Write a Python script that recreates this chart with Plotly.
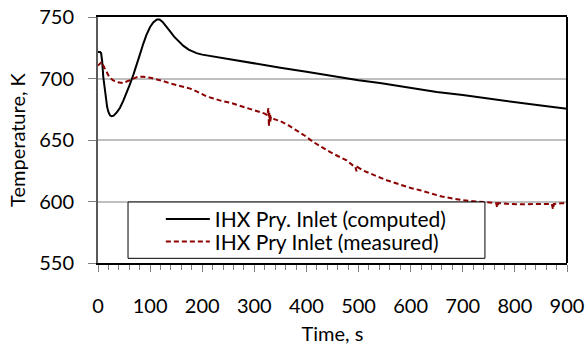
import plotly.graph_objects as go

# Computed IHX primary inlet temperature (time s, temperature K)
comp_t = [0, 4, 6, 8, 10.2, 13, 15.4, 17.5, 19.8, 23, 26, 30, 36, 42, 48.6, 55, 61, 67.8, 74, 80,
          87, 93, 100, 106, 113, 118, 124, 131, 138, 146, 155, 164, 174, 189, 200, 215, 250, 300,
          350, 400, 450, 477, 500, 541, 600, 650, 700, 750, 800, 850, 900]
comp_T = [721.5, 721.5, 720.5, 714, 701, 690, 682, 677, 673, 670, 669.3, 669.8, 672.5, 676, 682,
          688, 695, 703, 712, 719, 728.4, 735.5, 741.9, 745.5, 747.9, 748, 746, 742.5, 738.5, 734,
          730, 726.5, 723.5, 720.6, 719.4, 718.3, 715.5, 712.2, 708.8, 705.5, 702, 700, 698.5, 696.3,
          692.5, 689, 686.5, 683.5, 681, 678, 675.5]

# Measured IHX primary inlet temperature (time s, temperature K)
meas_t = [0, 4, 7, 12, 16.5, 22, 29, 38, 48, 58, 67, 77, 87, 95, 103, 115, 125, 138, 151, 164,
          177, 192, 200, 208, 220, 235, 253, 270, 292, 310, 320, 325, 327, 328, 329, 330, 332, 338,
          349, 365, 381, 397, 413, 430, 445, 460, 477, 490, 494, 496, 498, 510, 522, 538, 554, 570,
          586, 600, 618, 637, 660, 682, 700, 720, 746, 760, 764, 766, 768, 790, 810, 840, 860, 871,
          873, 875, 890, 900]
meas_T = [710.5, 712, 713.4, 709, 705, 701, 698.5, 697, 696.3, 698, 700, 701.5, 701.5, 701, 700.4,
          699, 698, 696, 694.5, 693, 691.8, 689, 687, 685.5, 684, 682, 680.4, 678, 675.5, 673,
          671.5, 670, 676, 661, 672, 664, 669, 667, 665.5, 662, 658, 653.5, 648.4, 644, 640.3, 637,
          633.5, 629, 628, 624.5, 628, 625, 622.7, 620, 617.3, 615, 613.2, 611, 609.2, 607, 604,
          602.3, 601, 600.3, 599.6, 599, 598.7, 595, 598.7, 598, 597.7, 598, 598.3, 598, 593.7, 598,
          598.5, 598.6]

x_ticks = [0, 100, 200, 300, 400, 500, 600, 700, 800, 900]
y_ticks = [550, 600, 650, 700, 750]

FONT = "Lato"
FS = 20

fig = go.Figure()
fig.add_trace(go.Scatter(x=comp_t, y=comp_T, mode="lines", name="IHX Pry. Inlet (computed)",
                         line=dict(color="black", width=2), legend="legend"))
fig.add_trace(go.Scatter(x=meas_t, y=meas_T, mode="lines", name="IHX Pry Inlet (measured)",
                         line=dict(color="#8B0000", width=2, dash="5px,3px"), legend="legend2"))

# legend frame
fig.add_shape(type="rect", xref="paper", yref="paper", x0=0.064, x1=0.825, y0=0.019, y1=0.248,
              line=dict(color="black", width=1), fillcolor="white", layer="above")
# right border
fig.add_shape(type="line", xref="paper", yref="paper", x0=1, x1=1, y0=0, y1=1,
              line=dict(color="black", width=2), layer="above")

leg_common = dict(xanchor="left", yanchor="middle", bgcolor="rgba(0,0,0,0)", borderwidth=0,
                  font=dict(family=FONT, size=21, color="black"), itemwidth=44)

fig.update_layout(
    width=585, height=345,
    margin=dict(l=98, r=18, t=17, b=82, autoexpand=False),
    paper_bgcolor="white", plot_bgcolor="white",
    font=dict(family=FONT, size=FS, color="black"),
    showlegend=True,
    legend=dict(x=0.134, y=0.177, **leg_common),
    legend2=dict(x=0.134, y=0.086, **leg_common),
    xaxis=dict(range=[0, 900], tickvals=x_ticks, showgrid=False, zeroline=False, automargin=False,
               showline=True, linecolor="black", linewidth=2, mirror=True,
               ticks="outside", ticklen=7, tickcolor="#7f7f7f", tickwidth=1,
               ticklabelstandoff=17,
               minor=dict(dtick=20, ticks="outside", ticklen=5, tickcolor="#7f7f7f", tickwidth=1),
               title=dict(text="Time, s", standoff=13, font=dict(size=FS))),
    yaxis=dict(range=[550, 750], tickvals=y_ticks, showgrid=True, gridcolor="#BFBFBF", gridwidth=1.5,
               zeroline=False, showline=True, linecolor="#595959", linewidth=2, automargin=False,
               ticks="outside", ticklen=8, tickcolor="#7f7f7f", tickwidth=1,
               ticklabelstandoff=10,
               title=dict(text="Temperature, K", standoff=8, font=dict(size=FS))),
)

fig.write_html("out.html")
